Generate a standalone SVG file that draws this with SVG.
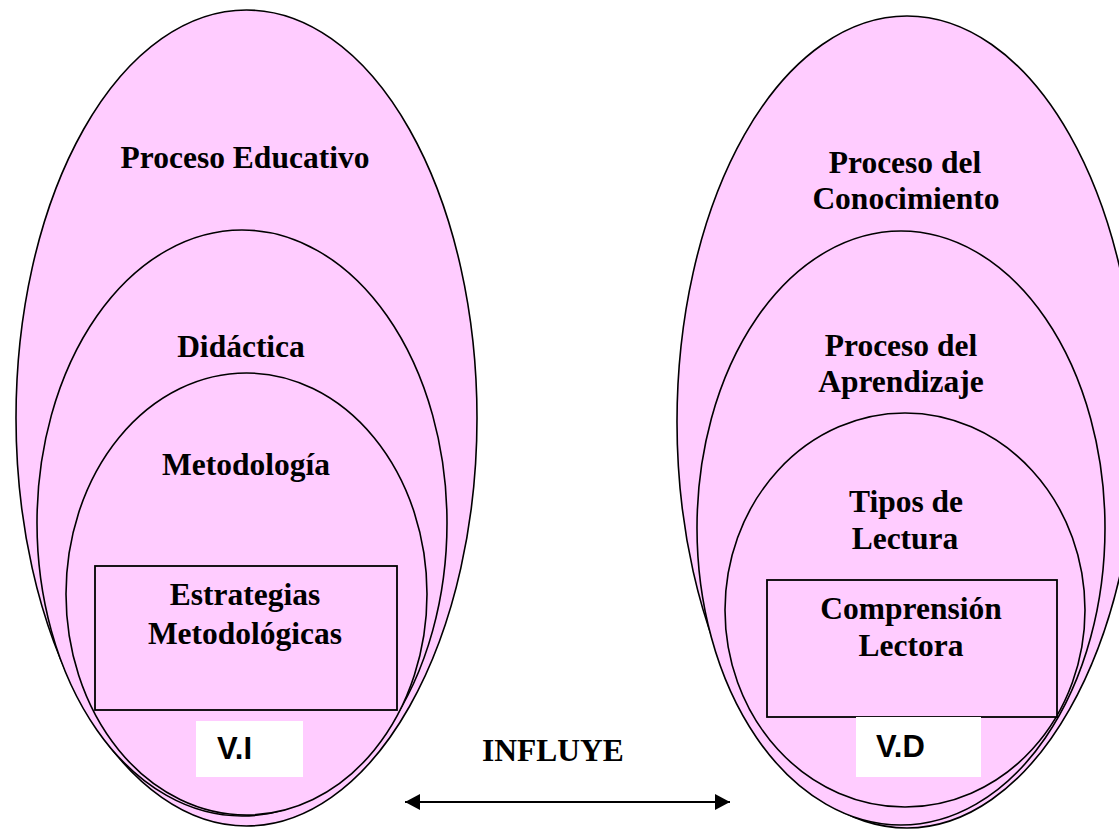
<svg xmlns="http://www.w3.org/2000/svg" width="1119" height="830" viewBox="0 0 1119 830">
<style>
.ell{fill:#FFCCFF;stroke:#000;stroke-width:1.6}
.box{fill:#FFCCFF;stroke:#000;stroke-width:1.8}
.lbl{fill:#fff;stroke:none}
.t{font-family:"Liberation Serif","Times New Roman",serif;font-weight:bold;font-size:31.5px;text-anchor:middle;fill:#000}
.v{font-family:"Liberation Sans",Arial,sans-serif;font-weight:bold;font-size:31px;fill:#000}
.con{stroke:#000;stroke-width:2;fill:none}
</style>
<defs>
<marker id="ah" viewBox="0 0 15 16" refX="15" refY="8" markerWidth="15" markerHeight="16" markerUnits="userSpaceOnUse" orient="auto-start-reverse">
<path d="M0,0 L15,8 L0,16 Z" fill="#000"/>
</marker>
</defs>
<rect width="1119" height="830" fill="#fff"/>
<g id="proceso-educativo">
<ellipse class="ell" cx="246.5" cy="418" rx="230.5" ry="408"/>
<text class="t" x="245" y="168">Proceso Educativo</text>
</g>
<g id="didactica">
<ellipse class="ell" cx="242" cy="523" rx="205" ry="293"/>
<text class="t" x="241" y="357">Didáctica</text>
</g>
<g id="metodologia">
<ellipse class="ell" cx="246.5" cy="594" rx="180.5" ry="221"/>
<text class="t" x="246" y="475">Metodología</text>
</g>
<g id="estrategias">
<rect class="box" x="95" y="566" width="302" height="144"/>
<text class="t" x="245" y="605">Estrategias</text>
<text class="t" x="245" y="644">Metodológicas</text>
</g>
<g id="vi">
<rect class="lbl" x="196" y="721" width="107" height="56"/>
<text class="v" x="217" y="759">V.I</text>
</g>
<g id="proceso-conocimiento">
<ellipse class="ell" cx="907" cy="422" rx="230" ry="406"/>
<text class="t" x="905" y="173">Proceso del</text>
<text class="t" x="906" y="209">Conocimiento</text>
</g>
<g id="proceso-aprendizaje">
<ellipse class="ell" cx="901" cy="528" rx="204" ry="297"/>
<text class="t" x="901" y="356">Proceso del</text>
<text class="t" x="901" y="392">Aprendizaje</text>
</g>
<g id="tipos-lectura">
<ellipse class="ell" cx="905" cy="610" rx="180" ry="197"/>
<text class="t" x="906" y="512">Tipos de</text>
<text class="t" x="905" y="549">Lectura</text>
</g>
<g id="comprension">
<rect class="box" x="767" y="580" width="290" height="137"/>
<text class="t" x="911" y="619">Comprensión</text>
<text class="t" x="911" y="656">Lectora</text>
</g>
<g id="vd">
<rect class="lbl" x="856" y="717" width="125" height="60"/>
<text class="v" x="876" y="757">V.D</text>
</g>
<g id="connectors">
<line class="con" x1="405" y1="802" x2="730" y2="802" marker-start="url(#ah)" marker-end="url(#ah)"/>
<text class="t" x="553" y="761">INFLUYE</text>
</g>
</svg>
